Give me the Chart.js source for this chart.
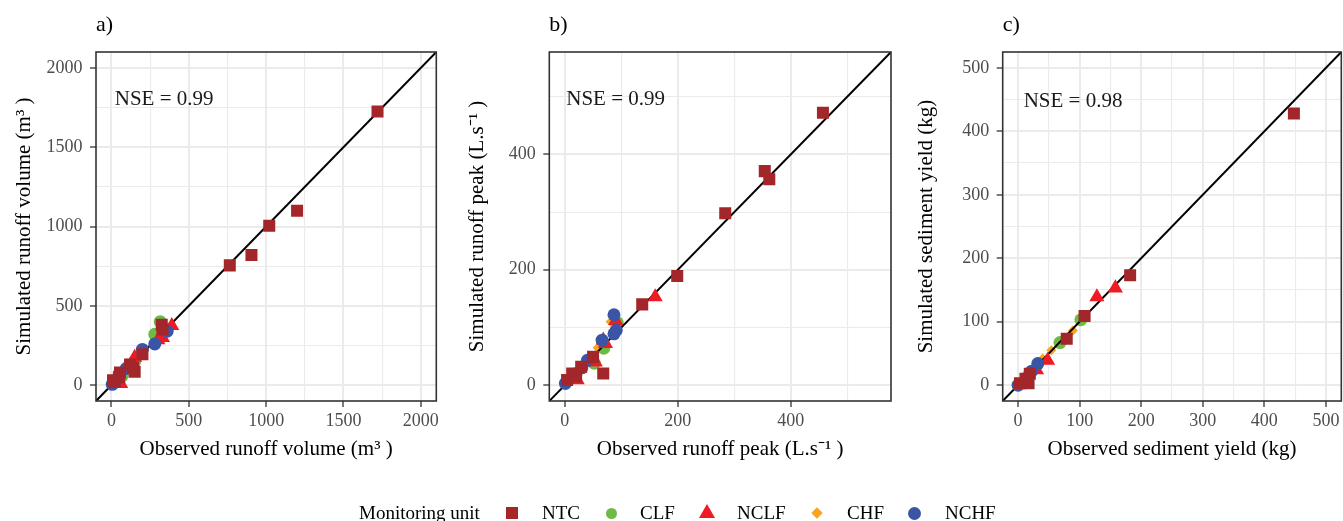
<!DOCTYPE html>
<html>
<head>
<meta charset="utf-8">
<script src="https://cdn.jsdelivr.net/npm/chart.js@4.4.1/dist/chart.umd.min.js"></script>
<style>
  html, body { margin: 0; padding: 0; background: #fff; overflow: hidden; width: 1343px; height: 521px; }
  canvas { position: absolute; top: 0; }
  #legend { position: absolute; left: 0; top: 0; width: 1343px; height: 521px; font-family: "Liberation Serif", "Times New Roman", serif; font-size: 19px; color: #000; }
  #legend span { position: absolute; top: 503px; line-height: 19px; white-space: nowrap; }
  #legend i { position: absolute; display: block; }
</style>
</head>
<body>
<canvas id="c0" width="445" height="521" style="left:0px"></canvas>
<canvas id="c1" width="455" height="521" style="left:445px"></canvas>
<canvas id="c2" width="450" height="521" style="left:900px"></canvas>
<div id="legend"></div>
<script>
const fontFam = '"Liberation Serif", "Times New Roman", serif';

// monitoring units (legend order)
const units = ['NTC', 'CLF', 'NCLF', 'CHF', 'NCHF'];
const unitColors = ['#A3262A', '#6CBB45', '#ED1C24', '#F8A41C', '#3A55A5'];

// a) runoff volume, [observed, simulated] in m3
const volumeNTC = [[1720, 1725], [1200, 1100], [1020, 1005], [905, 820], [765, 755], [325, 380], [330, 350],
  [200, 195], [120, 130], [140, 110], [150, 85], [55, 80], [50, 50], [20, 20], [10, 30]];
const volumeCLF = [[315, 400], [280, 320], [150, 150], [70, 60], [10, 10]];
const volumeNCLF = [[390, 375], [330, 300], [150, 175], [100, 115], [60, 10], [30, 30], [300, 285]];
const volumeCHF = [[300, 290], [110, 100], [40, 40]];
const volumeNCHF = [[360, 340], [280, 260], [200, 225], [95, 105], [50, 70], [5, 5], [25, 20]];

// b) runoff peak, [observed, simulated] in L/s
const peakNTC = [[457, 472], [354, 371], [362, 357], [284, 298], [199, 189], [137, 140], [50, 49], [68, 20],
  [29, 32], [13, 20], [4, 9], [20, 15]];
const peakCLF = [[93, 108], [69, 64], [52, 38], [20, 20]];
const peakNCLF = [[160, 153], [72, 72], [54, 40], [22, 9], [90, 112], [68, 78]];
const peakCHF = [[81, 110], [58, 65], [45, 50]];
const peakNCHF = [[87, 122], [91, 95], [87, 89], [66, 78], [40, 43], [1, 3], [30, 30]];

// c) sediment yield, [observed, simulated] in kg
const sedimentNTC = [[448, 428], [182, 173], [108, 109], [79, 73], [19, 18], [17, 3], [3, 3], [12, 10]];
const sedimentCLF = [[102, 103], [68, 67], [16, 14]];
const sedimentNCLF = [[158, 153], [128, 139], [48, 39], [30, 24]];
const sedimentCHF = [[89, 86], [54, 55], [40, 42]];
const sedimentNCHF = [[32, 34], [22, 22], [0, 0]];

const panelData = [
  [volumeNTC, volumeCLF, volumeNCLF, volumeCHF, volumeNCHF],
  [peakNTC, peakCLF, peakNCLF, peakCHF, peakNCHF],
  [sedimentNTC, sedimentCLF, sedimentNCLF, sedimentCHF, sedimentNCHF]
];

const panelLabels = ['a)', 'b)', 'c)'];
const xTitles = ['Observed runoff volume (m\u00B3 )', 'Observed runoff peak (L.s\u207B\u00B9 )', 'Observed sediment yield (kg)'];
const yTitles = ['Simulated runoff volume (m\u00B3 )', 'Simulated runoff peak (L.s\u207B\u00B9 )', 'Simulated sediment yield (kg)'];
const nseLabels = ['NSE = 0.99', 'NSE = 0.99', 'NSE = 0.98'];

// axis ranges and breaks (labelled major ticks + unlabelled minor grid)
const axisMin = [-100, -27.5, -25];
const axisMax = [2100, 577.5, 525];
const volumeTicks = [0, 250, 500, 750, 1000, 1250, 1500, 1750, 2000];
const peakTicks = [0, 100, 200, 300, 400, 500];
const sedimentTicks = [0, 50, 100, 150, 200, 250, 300, 350, 400, 450, 500];
const panelTicks = [volumeTicks, peakTicks, sedimentTicks];
const majorStep = [500, 200, 100];

// layout bits (pixels)
const plotLeft = [96, 104.3, 102.7];
const rightPad = [8, 9, 4.6];
const yTitlePad = [11.4, 19.4, 13.5];
const nseAt = [[21, 1803], [2.5, 495], [9, 447]];

const pointStyles = ['rect', 'circle', 'triangle', 'rectRot', 'circle'];
const pointRadii = [8.5, 6.5, 8.7, 5, 6.5];
const drawOrder = [1, 6, 3, 5, 2]; // lower = on top
const isMajor = (v, step) => Math.abs(v / step - Math.round(v / step)) < 1e-6;

const framePlugin = {
  id: 'frame',
  afterDraw(chart, args, opts) {
    const { ctx, chartArea: a, scales } = chart;
    ctx.save();
    ctx.font = '21px ' + fontFam;
    ctx.fillStyle = '#1A1A1A';
    ctx.textAlign = 'left';
    ctx.textBaseline = 'middle';
    ctx.fillText(opts.note, scales.x.getPixelForValue(opts.at[0]), scales.y.getPixelForValue(opts.at[1]));
    ctx.strokeStyle = '#333333';
    ctx.lineWidth = 1.6;
    ctx.strokeRect(a.left, a.top, a.width, a.height);
    ctx.restore();
  }
};

function axis(i, isX) {
  const step = majorStep[i];
  return {
    type: 'linear',
    min: axisMin[i],
    max: axisMax[i],
    afterBuildTicks: s => { s.ticks = panelTicks[i].map(v => ({ value: v })); },
    afterFit: s => { if (isX) s.height = 120; else s.width = plotLeft[i]; },
    border: { display: false },
    grid: {
      color: '#EBEBEB',
      lineWidth: c => (c.tick && isMajor(c.tick.value, step)) ? 2 : 1.1,
      drawTicks: true,
      tickLength: 6,
      tickWidth: 1.3,
      tickColor: c => (c.tick && isMajor(c.tick.value, step)) ? '#333333' : 'rgba(0,0,0,0)'
    },
    ticks: {
      autoSkip: false,
      maxRotation: 0,
      padding: isX ? 3 : 7.5,
      color: '#4D4D4D',
      font: { family: fontFam, size: 18 },
      callback: v => isMajor(v, step) ? String(Math.round(v)) : ''
    },
    title: {
      display: true,
      text: isX ? xTitles[i] : yTitles[i],
      color: '#000',
      font: { family: fontFam, size: 21, lineHeight: 1.2 },
      padding: isX ? { top: 0, bottom: 59.4 } : { top: yTitlePad[i], bottom: 0 }
    }
  };
}

function makeChart(i) {
  const datasets = panelData[i].map((pts, k) => ({
    label: units[k],
    data: pts.map(p => ({ x: p[0], y: p[1] })),
    pointStyle: pointStyles[k],
    pointRadius: pointRadii[k],
    pointBackgroundColor: unitColors[k],
    pointBorderWidth: 0,
    order: drawOrder[k]
  }));
  datasets.push({
    type: 'line',
    label: '1:1',
    data: [{ x: axisMin[i], y: axisMin[i] }, { x: axisMax[i], y: axisMax[i] }],
    borderColor: '#000',
    borderWidth: 2,
    pointRadius: 0,
    fill: false,
    order: 4
  });
  new Chart(document.getElementById('c' + i), {
    type: 'scatter',
    data: { datasets },
    options: {
      responsive: false,
      animation: false,
      events: [],
      layout: { padding: { left: 0, right: rightPad[i], top: 0, bottom: 0 } },
      plugins: {
        legend: { display: false },
        tooltip: { enabled: false },
        title: {
          display: true,
          text: panelLabels[i],
          align: 'start',
          fullSize: false,
          color: '#000',
          font: { family: fontFam, size: 22, weight: 'normal', lineHeight: 1.2 },
          padding: { top: 12, bottom: 13.6 }
        },
        frame: { note: nseLabels[i], at: nseAt[i] }
      },
      scales: { x: axis(i, true), y: axis(i, false) }
    },
    plugins: [framePlugin]
  });
}

[0, 1, 2].forEach(makeChart);

// shared legend along the bottom
const legendTitle = 'Monitoring unit';
const legendTextLeft = [542, 640, 737, 847, 945];
const legendKeyLeft = [512, 611, 707, 816.5, 914];
const legend = document.getElementById('legend');
const title = document.createElement('span');
title.textContent = legendTitle;
title.style.left = '359px';
legend.appendChild(title);
units.forEach((u, k) => {
  const key = document.createElement('i');
  const cx = legendKeyLeft[k], cy = 513, c = unitColors[k];
  if (pointStyles[k] === 'rect') {
    Object.assign(key.style, { left: (cx - 6) + 'px', top: (cy - 6) + 'px', width: '12px', height: '12px', background: c });
  } else if (pointStyles[k] === 'circle') {
    const d = k === 4 ? 13 : 11;
    Object.assign(key.style, { left: (cx - d / 2) + 'px', top: (cy - d / 2) + 'px', width: d + 'px', height: d + 'px', background: c, borderRadius: '50%' });
  } else if (pointStyles[k] === 'triangle') {
    Object.assign(key.style, { left: (cx - 8) + 'px', top: (cy - 9) + 'px', width: '0', height: '0',
      borderLeft: '8px solid transparent', borderRight: '8px solid transparent', borderBottom: '14px solid ' + c });
  } else {
    Object.assign(key.style, { left: (cx - 4) + 'px', top: (cy - 4) + 'px', width: '8px', height: '8px', background: c, transform: 'rotate(45deg)' });
  }
  legend.appendChild(key);
  const t = document.createElement('span');
  t.textContent = u;
  t.style.left = legendTextLeft[k] + 'px';
  legend.appendChild(t);
});
</script>
</body>
</html>
